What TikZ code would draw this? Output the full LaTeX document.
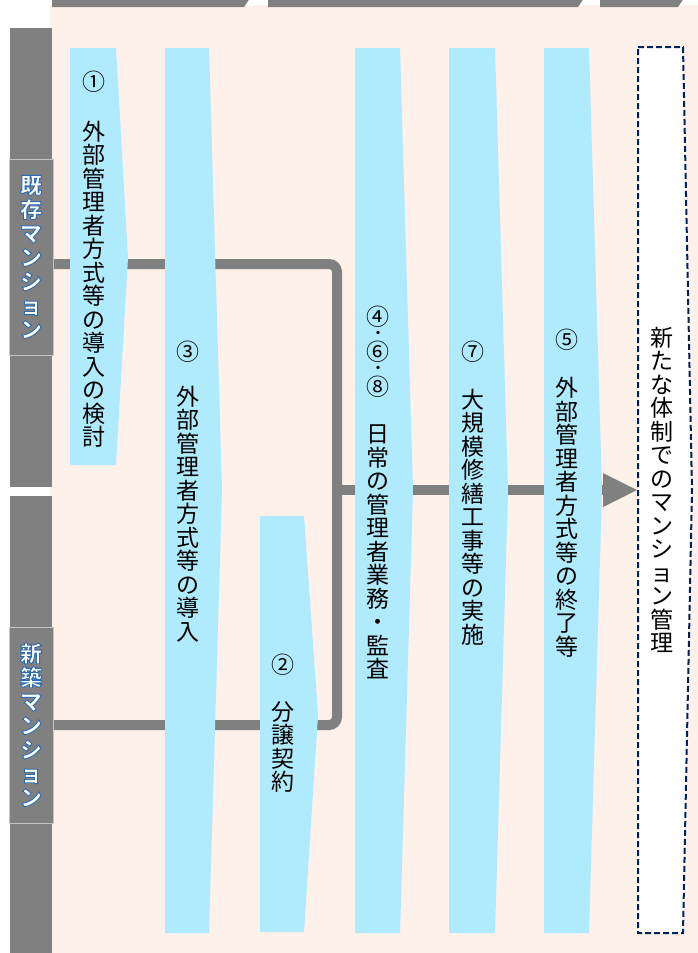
\documentclass[tikz,border=0pt]{standalone}
\usepackage{fontspec}
\setmainfont{Noto Sans CJK JP}
\definecolor{peach}{RGB}{253,241,233}
\definecolor{colblue}{RGB}{176,234,253}
\definecolor{barg}{RGB}{128,128,128}
\definecolor{navy}{RGB}{0,32,96}
\newcommand{\tightlines}{\setlength{\lineskiplimit}{-100pt}\setlength{\lineskip}{0pt}}
\newcommand{\outltext}[1]{\special{pdf:literal direct 2 Tr 0.9 w 0.16 0.42 0.70 RG}#1\special{pdf:literal direct 0 Tr}}
\begin{document}
\begin{tikzpicture}[x=1pt,y=-1pt,
  colshape/.style={fill=colblue},
  vtxt/.style={align=center,inner sep=0pt,font=\fontsize{23}{23.5}\selectfont\tightlines},
  numtxt/.style={inner sep=0pt,font=\fontsize{23}{23}\selectfont},
  dottxt/.style={inner sep=0pt,font=\bfseries\fontsize{12}{12}\selectfont},
  conn/.style={draw=barg,line width=10pt,rounded corners=8pt},
  lblbox/.style={fill=barg,draw=gray!45,line width=0.6pt,minimum width=44pt,minimum height=196pt,inner sep=0pt,
    align=center,text=white,font=\bfseries\fontsize{22}{24}\selectfont\tightlines},
  sidebar/.style={fill=barg},
  newbox/.style={draw=navy,fill=white,line width=2pt,dash pattern=on 6pt off 3pt},
]
\useasboundingbox (0,0) rectangle (698,953);
% background
\fill[peach] (50,5) rectangle (698,953);
% top bars (cut-off header arrows)
\fill[barg] (52,-2) -- (250,-2) -- (244,7) -- (52,7) -- cycle;
\fill[barg] (268,-2) -- (584,-2) -- (578,7) -- (268,7) -- cycle;
\fill[barg] (600,-2) -- (684,-2) -- (678,7) -- (600,7) -- cycle;
% left side bars
\fill[sidebar] (10,28) rectangle (52,487);
\fill[sidebar] (10,496) rectangle (52,953);
% connector coordinates
\coordinate (exA) at (52,264);
\coordinate (exB) at (52,725);
\coordinate (jn) at (337,490);
\coordinate (tipbase) at (606,490);
\coordinate (tip) at (637,490);
% connectors
\draw[conn] (exA) -| (jn) |- (exB);
\draw[conn] (jn) -- (tipbase);
\fill[barg] (603,473) -- (tip) -- (603,507) -- cycle;
% columns
\fill[colshape] (70,48) -- (116,48) -- (128,258) -- (116,465) -- (70,465) -- cycle;
\fill[colshape] (165,48) -- (209,48) -- (222,490) -- (209,933) -- (165,933) -- cycle;
\fill[colshape] (260,516) -- (304,516) -- (318,715) -- (304,932) -- (260,932) -- cycle;
\fill[colshape] (355,48) -- (400,48) -- (413,490) -- (400,933) -- (355,933) -- cycle;
\fill[colshape] (449,48) -- (495,48) -- (508,490) -- (495,933) -- (449,933) -- cycle;
\fill[colshape] (544,48) -- (589,48) -- (602,490) -- (589,933) -- (544,933) -- cycle;
\draw[newbox] (638,47) -- (683,47) -- (692,490) -- (683,933) -- (638,933) -- cycle;
% texts
\node[numtxt] (n1) at (94,82) {①};
\node[vtxt] (t1) at (94,284) {外\\部\\管\\理\\者\\方\\式\\等\\の\\導\\入\\の\\検\\討};
\node[numtxt] (n3) at (188,352) {③};
\node[vtxt] (t3) at (188,514) {外\\部\\管\\理\\者\\方\\式\\等\\の\\導\\入};
\node[numtxt] (n2) at (283,665) {②};
\node[vtxt] (t2) at (283,747) {分\\譲\\契\\約};
\node[numtxt] (n4) at (378,317) {④};
\node[dottxt] (d4a) at (378,334.5) {・};
\node[numtxt] (n6) at (378,352) {⑥};
\node[dottxt] (d4b) at (378,369.5) {・};
\node[numtxt] (n8) at (378,387) {⑧};
\node[vtxt] (t4) at (378,552) {日\\常\\の\\管\\理\\者\\業\\務\\・\\監\\査};
\node[numtxt] (n7) at (473,352) {⑦};
\node[vtxt] (t7) at (473,517) {大\\規\\模\\修\\繕\\工\\事\\等\\の\\実\\施};
\node[numtxt] (n5) at (567,340) {⑤};
\node[vtxt] (t5) at (567,517) {外\\部\\管\\理\\者\\方\\式\\等\\の\\終\\了\\等};
\node[vtxt] (t6) at (662,490) {新\\た\\な\\体\\制\\で\\の\\マ\\ン\\シ\\ョ\\ン\\管\\理};
% side labels
\node[lblbox] (lblA) at (31,257) {\outltext{既\\存\\マ\\ン\\シ\\ョ\\ン}};
\node[lblbox] (lblB) at (31,725) {\outltext{新\\築\\マ\\ン\\シ\\ョ\\ン}};
\end{tikzpicture}
\end{document}
